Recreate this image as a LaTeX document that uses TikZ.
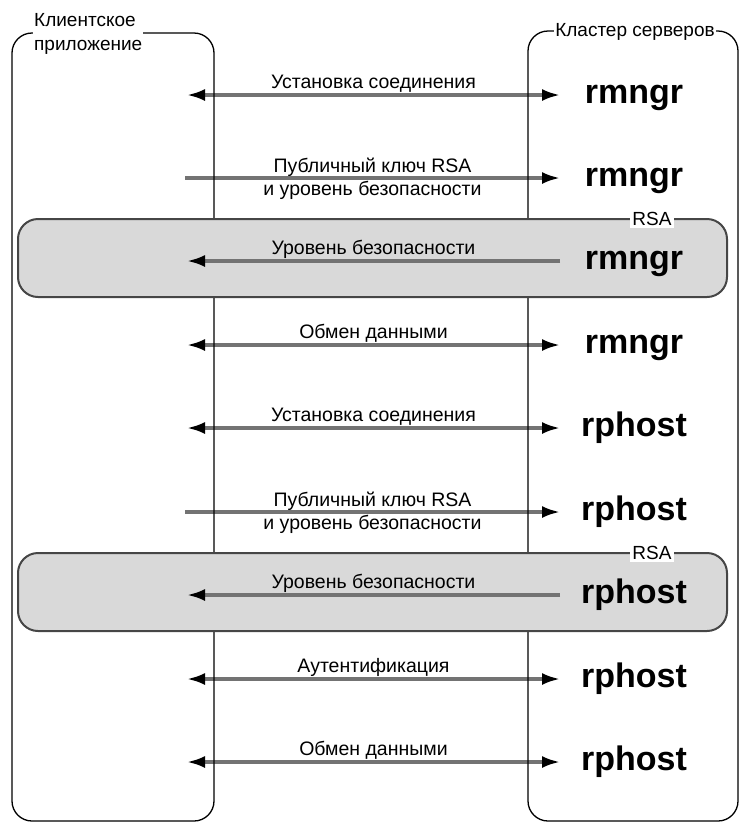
\documentclass[tikz,border=0pt]{standalone}
\usepackage{fontspec}
\setmainfont{Liberation Sans}
\usetikzlibrary{arrows.meta}
\definecolor{boxgray}{RGB}{217,217,217}
\definecolor{linegray}{RGB}{115,115,115}
\definecolor{edgegray}{RGB}{70,70,70}
\begin{document}
\begin{tikzpicture}[x=1pt,y=-1pt,
  col/.style={draw=black,line width=1.3pt,rounded corners=20pt},
  rsabox/.style={draw=edgegray,fill=boxgray,line width=2pt,rounded corners=20pt},
  msg/.style={draw=linegray,line width=3.2pt,>={Latex[length=18pt,width=12pt,color=black]}},
  lbl/.style={font=\fontsize{19.5}{23}\selectfont,align=center,inner sep=0pt,anchor=base,midway,yshift=7pt},
  srv/.style={font=\fontsize{34}{38}\selectfont\bfseries,anchor=base},
  ttl/.style={font=\fontsize{19}{24}\selectfont,fill=white,inner sep=1pt},
  rsa/.style={font=\fontsize{19}{22}\selectfont,fill=white,inner sep=2pt}]
  \useasboundingbox (0,0) rectangle (740,823);
  \coordinate (c1) at (187,95); \coordinate (c2) at (185,178); \coordinate (c3) at (187,261); \coordinate (c4) at (187,345); \coordinate (c5) at (187,428);
  \coordinate (c6) at (185,512); \coordinate (c7) at (187,595); \coordinate (c8) at (187,679); \coordinate (c9) at (187,762);
  \coordinate (s1) at (560,95); \coordinate (s2) at (560,178); \coordinate (s3) at (560,261); \coordinate (s4) at (560,345); \coordinate (s5) at (560,428);
  \coordinate (s6) at (560,512); \coordinate (s7) at (560,595); \coordinate (s8) at (560,679); \coordinate (s9) at (560,762);
  % messages outside the RSA boxes
  \draw[msg,<->] (c1) -- (s1) node[lbl] {Установка соединения};
  \draw[msg,->] (c2) -- (s2) node[lbl,yshift=-24pt] {Публичный ключ RSA\\и уровень безопасности};
  \draw[msg,<->] (c4) -- (s4) node[lbl] {Обмен данными};
  \draw[msg,<->] (c5) -- (s5) node[lbl] {Установка соединения};
  \draw[msg,->] (c6) -- (s6) node[lbl,yshift=-24pt] {Публичный ключ RSA\\и уровень безопасности};
  \draw[msg,<->] (c8) -- (s8) node[lbl] {Аутентификация};
  \draw[msg,<->] (c9) -- (s9) node[lbl] {Обмен данными};
  % lifelines
  \draw[col] (12,33) rectangle (214,821); \draw[col] (528,31) rectangle (738,821);
  \node[ttl,anchor=north west,align=left] (client) at (33,12) {Клиентское\\приложение};
  \node[ttl] (cluster) at (635,32) {Кластер серверов};
  % RSA boxes
  \draw[rsabox] (18,219) rectangle (727,297); \node[rsa] (rsa1) at (652,219) {RSA};
  \draw[rsabox] (18,553) rectangle (727,631); \node[rsa] (rsa2) at (652,553) {RSA};
  \draw[msg,->] (s3) -- (c3) node[lbl] {Уровень безопасности};
  \draw[msg,->] (s7) -- (c7) node[lbl] {Уровень безопасности};
  % servers
  \node[srv] (srv1) at (634,103) {rmngr}; \node[srv] (srv2) at (634,186) {rmngr}; \node[srv] (srv3) at (634,269) {rmngr};
  \node[srv] (srv4) at (634,353) {rmngr}; \node[srv] (srv5) at (634,436) {rphost}; \node[srv] (srv6) at (634,520) {rphost};
  \node[srv] (srv7) at (634,603) {rphost}; \node[srv] (srv8) at (634,687) {rphost}; \node[srv] (srv9) at (634,770) {rphost};
\end{tikzpicture}
\end{document}
